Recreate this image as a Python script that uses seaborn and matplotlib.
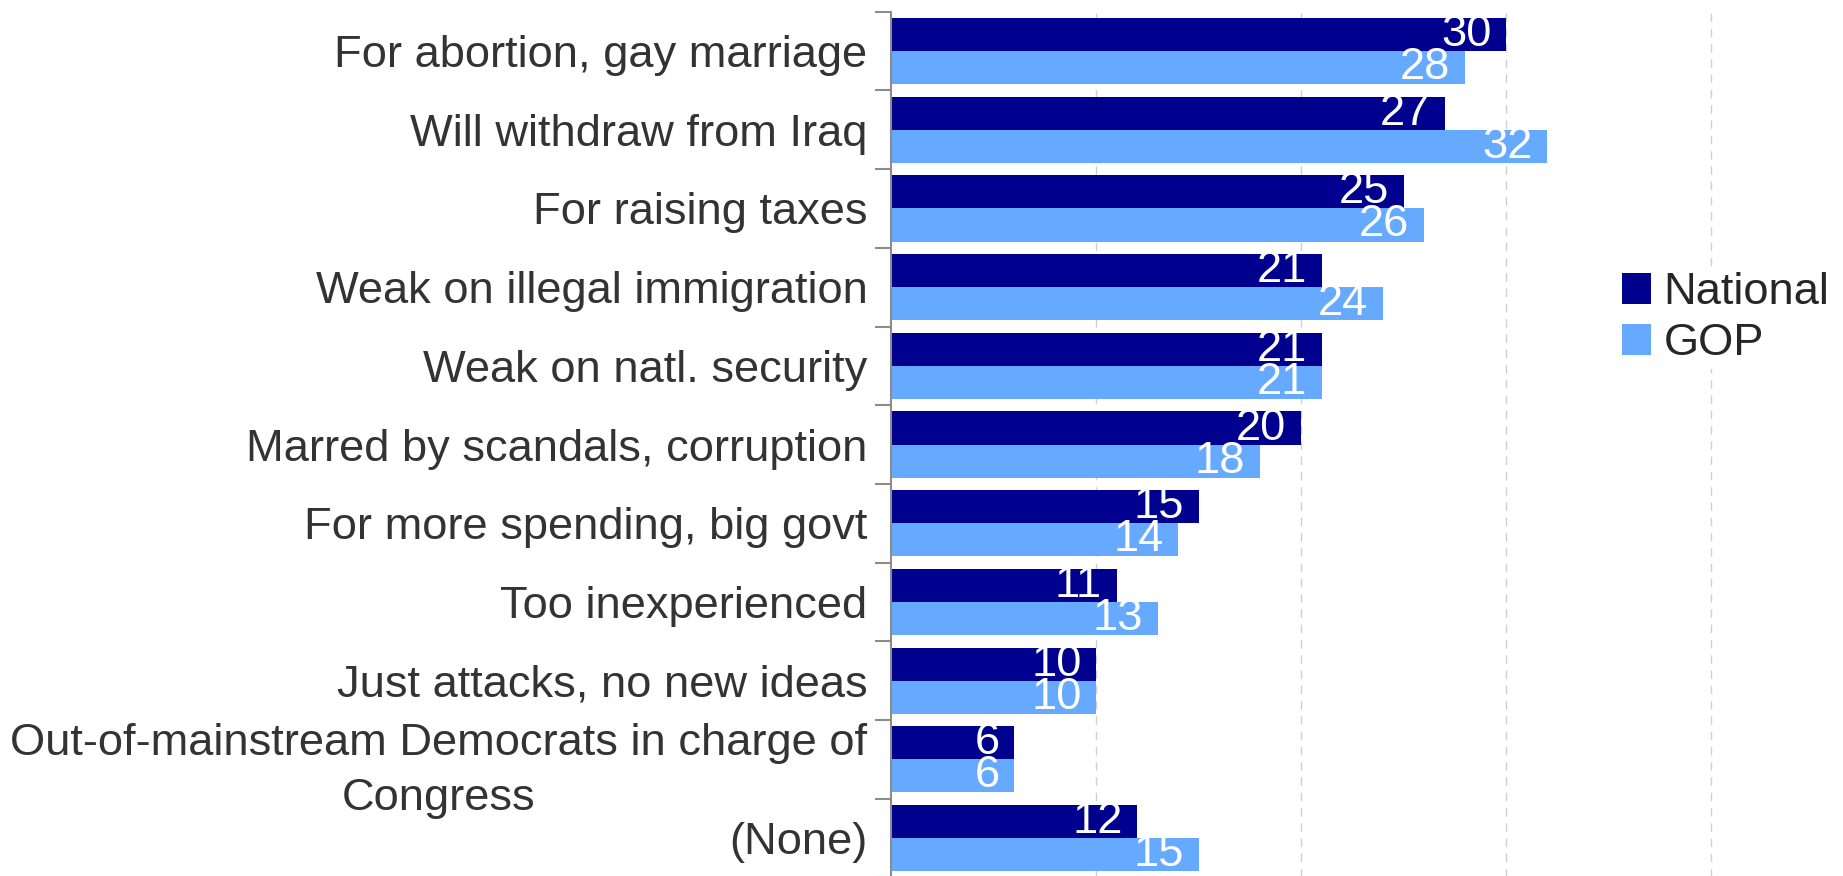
import matplotlib
matplotlib.use("Agg")
import matplotlib.pyplot as plt
import seaborn as sns
import pandas as pd
import numpy as np
from matplotlib.ticker import FixedLocator
from matplotlib.patches import Patch

categories = [
    "For abortion, gay marriage",
    "Will withdraw from Iraq",
    "For raising taxes",
    "Weak on illegal immigration",
    "Weak on natl. security",
    "Marred by scandals, corruption",
    "For more spending, big govt",
    "Too inexperienced",
    "Just attacks, no new ideas",
    "Out-of-mainstream Democrats in charge of\nCongress",
    "(None)",
]
national = [30, 27, 25, 21, 21, 20, 15, 11, 10, 6, 12]
gop = [28, 32, 26, 24, 21, 18, 14, 13, 10, 6, 15]
series = ["National", "GOP"]
colors = ["#00008F", "#66AAFF"]

df = pd.DataFrame({
    "category": categories * 2,
    "value": national + gop,
    "series": [series[0]] * len(categories) + [series[1]] * len(categories),
})

sns.set_style("white")
plt.rcParams["font.family"] = ["Liberation Sans", "DejaVu Sans"]
FS = 32.6

W, H = 1843, 876
fig = plt.figure(figsize=(W / 100, H / 100), dpi=100)
left = 891 / W
top_px = 11.7
bot_px = 877.4
ax = fig.add_axes([left, 1 - bot_px / H, 1 - left, (bot_px - top_px) / H])

sns.barplot(data=df, y="category", x="value", hue="series", orient="h",
            palette=colors, width=0.84, saturation=1, ax=ax, legend=False,
            edgecolor="none", linewidth=0)

xmax = (W - 891) / 20.5
ax.set_xlim(0, xmax)
ax.set_ylim(len(categories) - 0.5, -0.5)
ax.set_xlabel("")
ax.set_ylabel("")
ax.set_xticks([])

# gridlines
for gx in [10, 20, 30, 40]:
    ax.axvline(gx, color="#CFCFCF", lw=1.0, ls=(0, (6, 5)), zorder=0)

for s in ["top", "right", "bottom"]:
    ax.spines[s].set_visible(False)
ax.spines["left"].set_color("#8C8C8C")
ax.spines["left"].set_linewidth(1.5)

ax.tick_params(axis="y", which="major", left=True, length=0, pad=17,
               labelsize=FS, labelcolor="#333333")
ax.yaxis.set_minor_locator(FixedLocator(np.arange(-0.5, len(categories), 1.0)))
ax.tick_params(axis="y", which="minor", left=True, length=11.5, width=1.5,
               color="#8C8C8C", direction="out")
for t in ax.get_yticklabels():
    t.set_multialignment("center")
    t.set_linespacing(1.45)

# data labels
for cont in ax.containers:
    for p in cont:
        v = p.get_width()
        ax.annotate(f"{v:.0f}", xy=(v, p.get_y() + p.get_height() / 2),
                    xytext=(-10.5, 0), textcoords="offset points",
                    ha="right", va="center", color="white", fontsize=FS,
                    clip_on=False)

handles = [Patch(facecolor=c, edgecolor="none") for c in colors]
leg = fig.legend(handles, series, loc="center left",
                 bbox_to_anchor=(1617 / W, 1 - 318 / H), frameon=True,
                 fontsize=FS, handlelength=0.64, handleheight=0.67,
                 handletextpad=0.29, labelspacing=0.22, borderpad=0.1,
                 borderaxespad=0)
leg.get_frame().set_facecolor("white")
leg.get_frame().set_edgecolor("none")
leg.get_frame().set_alpha(1)

fig.savefig("out.png", dpi=100)
